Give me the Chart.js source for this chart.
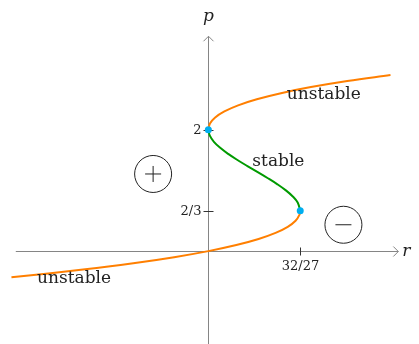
<!DOCTYPE html>
<html>
<head>
<meta charset="utf-8">
<style>
  html, body { margin: 0; padding: 0; background: #fff; }
  canvas { display: block; }
</style>
<script src="https://cdn.jsdelivr.net/npm/chart.js"></script>
</head>
<body>
<canvas id="bif" width="419" height="344"></canvas>
<script>
(function() {
'use strict';

// branches of the curve: r (x) and p (y)
const lowerP = [-0.43, -0.3, -0.2, -0.1, 0, 0.1, 0.2, 0.3, 0.4, 0.5, 0.6, 0.667];
const lowerR = [-2.539, -1.587, -0.968, -0.441, 0, 0.361, 0.648, 0.867, 1.024, 1.125, 1.176, 1.185];
const stableP = [0.667, 0.8, 0.9, 1.0, 1.1, 1.2, 1.3, 1.4, 1.5, 1.6, 1.7, 1.8, 1.9, 2.0];
const stableR = [1.185, 1.152, 1.089, 1.0, 0.891, 0.768, 0.637, 0.504, 0.375, 0.256, 0.153, 0.072, 0.019, 0];
const upperP = [2.0, 2.1, 2.2, 2.3, 2.4, 2.5, 2.6, 2.7, 2.8, 2.9];
const upperR = [0, 0.021, 0.088, 0.207, 0.384, 0.625, 0.936, 1.323, 1.792, 2.349];

// fold points
const foldR = [32 / 27, 0];
const foldP = [2 / 3, 2];

// ticks
const xTicks = [32 / 27];
const xTickLabels = ['32/27'];
const yTicks = [2 / 3, 2];
const yTickLabels = ['2/3', '2'];

// annotations
const notes = ['unstable', 'stable', 'unstable'];
const noteR = [1.489, 0.903, -1.731];
const noteP = [2.508, 1.399, -0.531];
const signs = ['+', '-'];
const signR = [-0.712, 1.742];
const signP = [1.27, 0.434];

const ORANGE = '#ff7f00';
const GREEN = '#009a00';
const CYAN = '#00aeef';
const AXIS = '#858585';
const SERIF = '"DejaVu Serif", "Liberation Serif", serif';

function pts(rs, ps) {
  return rs.map((r, i) => ({x: r, y: ps[i]}));
}

function arrow(ctx, x, y, dx, dy) {
  const s = 5;
  ctx.beginPath();
  ctx.moveTo(x - dx * s - dy * s, y - dy * s - dx * s);
  ctx.lineTo(x, y);
  ctx.moveTo(x - dx * s + dy * s, y - dy * s + dx * s);
  ctx.lineTo(x, y);
  ctx.stroke();
}

const axesPlugin = {
  id: 'axes',
  beforeDatasetsDraw(chart) {
    const ctx = chart.ctx;
    const sx = chart.scales.x, sy = chart.scales.y;
    const x0 = Math.round(sx.getPixelForValue(0)) + 0.5;
    const y0 = Math.round(sy.getPixelForValue(0)) + 0.5;
    const xl = sx.getPixelForValue(-2.483), xr = sx.getPixelForValue(2.45);
    const yt = sy.getPixelForValue(3.537), yb = chart.height;
    ctx.save();
    ctx.strokeStyle = AXIS;
    ctx.lineWidth = 1;
    ctx.beginPath();
    ctx.moveTo(xl, y0); ctx.lineTo(xr, y0);
    ctx.moveTo(x0, yb); ctx.lineTo(x0, yt);
    ctx.stroke();
    arrow(ctx, xr, y0, 1, 0);
    arrow(ctx, x0, yt, 0, -1);

    ctx.strokeStyle = '#333';
    ctx.fillStyle = '#222';
    ctx.font = '13px ' + SERIF;
    xTicks.forEach((v, i) => {
      const px = Math.round(sx.getPixelForValue(v)) + 0.5;
      ctx.beginPath(); ctx.moveTo(px, y0 - 4); ctx.lineTo(px, y0 + 4); ctx.stroke();
      ctx.textAlign = 'center'; ctx.textBaseline = 'top';
      ctx.fillText(xTickLabels[i], px, y0 + 9);
    });
    yTicks.forEach((v, i) => {
      const py = Math.round(sy.getPixelForValue(v)) + 0.5;
      ctx.beginPath(); ctx.moveTo(x0 - 5, py); ctx.lineTo(x0 + 5, py); ctx.stroke();
      ctx.textAlign = 'right'; ctx.textBaseline = 'middle';
      ctx.fillText(yTickLabels[i], x0 - 7, py);
    });

    ctx.font = 'italic 17px ' + SERIF;
    ctx.textAlign = 'center'; ctx.textBaseline = 'middle';
    ctx.fillText('p', x0, 17);
    ctx.fillText('r', xr + 8, y0);
    ctx.restore();
  },
  afterDatasetsDraw(chart) {
    const ctx = chart.ctx;
    const sx = chart.scales.x, sy = chart.scales.y;
    ctx.save();
    ctx.fillStyle = '#222';
    ctx.font = '17px ' + SERIF;
    ctx.textAlign = 'center'; ctx.textBaseline = 'alphabetic';
    notes.forEach((t, i) => {
      ctx.fillText(t, sx.getPixelForValue(noteR[i]), sy.getPixelForValue(noteP[i]));
    });
    ctx.strokeStyle = '#222';
    ctx.lineWidth = 1;
    signs.forEach((s, i) => {
      const cx = sx.getPixelForValue(signR[i]), cy = sy.getPixelForValue(signP[i]);
      ctx.beginPath(); ctx.arc(cx, cy, 18.5, 0, Math.PI * 2); ctx.stroke();
      ctx.beginPath();
      ctx.moveTo(cx - 8, cy); ctx.lineTo(cx + 8, cy);
      if (s === '+') { ctx.moveTo(cx, cy - 8); ctx.lineTo(cx, cy + 8); }
      ctx.stroke();
    });
    ctx.restore();
  }
};

function line(rs, ps, color) {
  return {
    data: pts(rs, ps),
    showLine: true,
    borderColor: color,
    borderWidth: 2,
    pointRadius: 0,
    tension: 0.4,
    fill: false,
    order: 2
  };
}

new Chart(document.getElementById('bif'), {
  type: 'scatter',
  data: {
    datasets: [
      line(lowerR, lowerP, ORANGE),
      line(stableR, stableP, GREEN),
      line(upperR, upperP, ORANGE),
      {
        data: pts(foldR, foldP),
        showLine: false,
        pointRadius: 3.5,
        pointBackgroundColor: CYAN,
        pointBorderWidth: 0,
        order: 1
      }
    ]
  },
  options: {
    responsive: false,
    animation: false,
    layout: {padding: 0},
    plugins: {legend: {display: false}, tooltip: {enabled: false}},
    scales: {
      x: {type: 'linear', min: -2.635, max: 2.665, display: false},
      y: {type: 'linear', min: -1.463, max: 4.068, display: false}
    }
  },
  plugins: [axesPlugin]
});
})();
</script>
</body>
</html>
